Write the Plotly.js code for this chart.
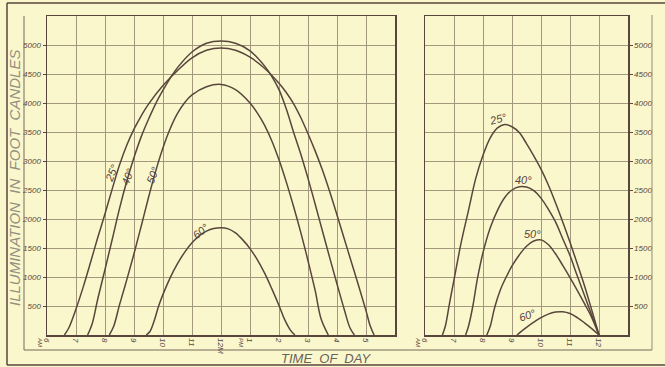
<!DOCTYPE html>
<html>
<head>
<meta charset="utf-8">
<script src="https://cdn.plot.ly/plotly-3.0.1.min.js"></script>
<style>html,body{margin:0;padding:0;background:#FAF7CD;}</style>
</head>
<body>
<div id="chart" style="width:665px;height:367px;"></div>
<script>
// ---- Data: left panel (illumination through the day) ----
const leftHours25 = [6.6, 6.75, 7.0, 7.25, 7.5, 7.75, 8.0, 8.25, 8.5, 8.75, 9.0, 9.25, 9.5, 10.0, 10.5, 11.0, 11.5, 12.0, 12.5, 13.0, 13.5, 14.0, 14.25, 14.5, 14.75, 15.0, 15.25, 15.5, 15.75, 16.0, 16.25, 16.5, 16.75, 17.0, 17.15, 17.28];
const leftVals25  = [0, 120, 450, 830, 1250, 1680, 2090, 2520, 2930, 3270, 3550, 3780, 3980, 4300, 4560, 4780, 4910, 4950, 4910, 4790, 4600, 4340, 4180, 3990, 3750, 3470, 3170, 2840, 2470, 2070, 1660, 1250, 840, 420, 150, 0];

const leftHours40 = [7.4, 7.55, 7.75, 8.0, 8.25, 8.5, 8.75, 9.0, 9.25, 9.5, 9.75, 10.0, 10.25, 10.5, 11.0, 11.5, 12.0, 12.5, 13.0, 13.5, 13.75, 14.0, 14.25, 14.5, 14.75, 15.0, 15.25, 15.5, 15.75, 16.0, 16.25, 16.45, 16.6];
const leftVals40  = [0, 180, 620, 1130, 1650, 2180, 2650, 3060, 3420, 3720, 3990, 4220, 4430, 4610, 4880, 5030, 5070, 5030, 4900, 4640, 4460, 4230, 3900, 3500, 3120, 2700, 2250, 1790, 1330, 880, 440, 120, 0];

const leftHours50 = [8.15, 8.3, 8.5, 8.75, 9.0, 9.25, 9.5, 9.75, 10.0, 10.25, 10.5, 10.75, 11.0, 11.5, 12.0, 12.5, 13.0, 13.25, 13.5, 13.75, 14.0, 14.25, 14.5, 14.75, 15.0, 15.25, 15.45, 15.7];
const leftVals50  = [0, 150, 520, 950, 1400, 1880, 2370, 2830, 3230, 3560, 3820, 4010, 4140, 4280, 4320, 4230, 4000, 3830, 3620, 3350, 3020, 2640, 2220, 1770, 1280, 760, 280, 0];

const leftHours60 = [9.42, 9.55, 9.7, 9.85, 10.0, 10.25, 10.5, 10.75, 11.0, 11.25, 11.5, 11.75, 12.0, 12.25, 12.5, 12.75, 13.0, 13.25, 13.5, 13.75, 14.0, 14.2, 14.4, 14.55];
const leftVals60  = [0, 60, 250, 500, 700, 990, 1230, 1430, 1590, 1710, 1790, 1835, 1850, 1830, 1760, 1640, 1490, 1300, 1070, 800, 510, 260, 80, 0];

// ---- Data: right panel (morning only) ----
const rightHours25 = [6.6, 6.7, 6.85, 7.0, 7.25, 7.5, 7.75, 8.0, 8.25, 8.5, 8.75, 9.0, 9.25, 9.5, 9.75, 10.0, 10.25, 10.5, 10.75, 11.0, 11.25, 11.5, 11.75, 12.0];
const rightVals25  = [0, 150, 560, 950, 1600, 2150, 2700, 3100, 3400, 3570, 3630, 3590, 3490, 3300, 3090, 2860, 2590, 2280, 1950, 1600, 1230, 850, 430, 0];

const rightHours40 = [7.4, 7.5, 7.65, 7.8, 8.0, 8.25, 8.5, 8.75, 9.0, 9.25, 9.5, 9.75, 10.0, 10.25, 10.5, 10.75, 11.0, 11.25, 11.5, 11.75, 12.0];
const rightVals40  = [0, 150, 500, 950, 1420, 1850, 2150, 2370, 2500, 2555, 2550, 2490, 2360, 2170, 1950, 1660, 1370, 1020, 680, 340, 0];

const rightHours50 = [8.13, 8.25, 8.4, 8.6, 8.8, 9.0, 9.25, 9.5, 9.75, 10.0, 10.25, 10.5, 10.75, 11.0, 11.25, 11.5, 11.75, 12.0];
const rightVals50  = [0, 150, 470, 780, 1000, 1190, 1380, 1530, 1620, 1640, 1560, 1400, 1200, 990, 770, 540, 300, 0];

const rightHours60 = [9.17, 9.5, 9.75, 10.0, 10.25, 10.5, 10.75, 11.0, 11.25, 11.5, 11.75, 12.0];
const rightVals60  = [0, 130, 220, 300, 360, 395, 400, 370, 300, 210, 110, 0];

// ---- Tick labels ----
const leftTickVals  = [6, 7, 8, 9, 10, 11, 12, 13, 14, 15, 16, 17];
const leftTickText  = ['6', '7', '8', '9', '10', '11', '12M', '1', '2', '3', '4', '5'];
const rightTickVals = [6, 7, 8, 9, 10, 11, 12];
const rightTickText = ['6', '7', '8', '9', '10', '11', '12'];
const yTickVals = [500, 1000, 1500, 2000, 2500, 3000, 3500, 4000, 4500, 5000];
const yTickText = ['500', '1000', '1500', '2000', '2500', '3000', '3500', '4000', '4500', '5000'];

const curveLabels = ['25°', '40°', '50°', '60°'];

// ---- Styling ----
const W = 665, H = 367;
const INK = 'rgb(88,70,60)';
const GRID = 'rgb(163,152,126)';
const BG = '#FAF7CD';
const FONT = 'Liberation Sans';

function curve(x, y, xa, ya) {
  return {x: x, y: y, xaxis: xa, yaxis: ya, mode: 'lines', type: 'scatter',
    line: {color: INK, width: 1.5, shape: 'spline', smoothing: 1},
    hoverinfo: 'skip', showlegend: false};
}

const data = [
  curve(leftHours25, leftVals25, 'x', 'y'),
  curve(leftHours40, leftVals40, 'x', 'y'),
  curve(leftHours50, leftVals50, 'x', 'y'),
  curve(leftHours60, leftVals60, 'x', 'y'),
  curve(rightHours25, rightVals25, 'x2', 'y2'),
  curve(rightHours40, rightVals40, 'x2', 'y2'),
  curve(rightHours50, rightVals50, 'x2', 'y2'),
  curve(rightHours60, rightVals60, 'x2', 'y2')
];

const px = v => v / W;
const py = v => 1 - v / H;
const yDom = [py(335), py(16)];

const tickFont = {family: FONT, size: 8, color: INK, style: 'italic'};

function xAxis(domain, range, vals, text, anchor) {
  return {domain: domain, range: range, anchor: anchor,
    tickmode: 'array', tickvals: vals, ticktext: text, tickangle: 90,
    tickfont: tickFont, ticks: '', ticklen: 0,
    showgrid: true, gridcolor: GRID, gridwidth: 1,
    showline: true, linecolor: INK, linewidth: 1.5, mirror: true,
    zeroline: false, fixedrange: true};
}
function yAxis(side, anchor) {
  return {domain: yDom, range: [0, 5500], anchor: anchor, side: side,
    tickmode: 'array', tickvals: yTickVals, ticktext: yTickText,
    tickfont: tickFont, ticks: 'outside', ticklen: 3, tickcolor: INK,
    showgrid: true, gridcolor: GRID, gridwidth: 1,
    showline: true, linecolor: INK, linewidth: 1.5, mirror: true,
    zeroline: false, fixedrange: true};
}

const labFont = {family: FONT, size: 11, color: INK, style: 'italic'};
const smallFont = {family: FONT, size: 6, color: INK, style: 'italic'};
function paperNote(x, y, text, angle, font) {
  return {x: px(x), y: py(y), xref: 'paper', yref: 'paper', xanchor: 'center', yanchor: 'middle',
    text: text, textangle: angle, showarrow: false, font: font};
}
function dataNote(x, y, xa, ya, text, angle) {
  return {x: x, y: y, xref: xa, yref: ya, xanchor: 'center', yanchor: 'middle',
    text: text, textangle: angle, showarrow: false, font: labFont};
}

const annotations = [
  // curve labels, left panel
  dataNote(8.22, 2800, 'x', 'y', curveLabels[0], -68),
  dataNote(8.77, 2730, 'x', 'y', curveLabels[1], -68),
  dataNote(9.64, 2760, 'x', 'y', curveLabels[2], -68),
  dataNote(11.3, 1800, 'x', 'y', curveLabels[3], -40),
  // curve labels, right panel
  dataNote(8.5, 3720, 'x2', 'y2', curveLabels[0], -15),
  dataNote(9.38, 2680, 'x2', 'y2', curveLabels[1], 0),
  dataNote(9.72, 1740, 'x2', 'y2', curveLabels[2], 0),
  dataNote(9.55, 340, 'x2', 'y2', curveLabels[3], -20),
  // AM / PM markers
  paperNote(40, 342, 'AM', 90, smallFont),
  paperNote(241, 342, 'PM', 90, smallFont),
  paperNote(418, 342, 'AM', 90, smallFont),
  // axis titles
  paperNote(14, 178, 'ILLUMINATION  IN  FOOT  CANDLES', -90,
    {family: FONT, size: 15, color: 'rgb(150,144,128)', style: 'italic'}),
  paperNote(326, 358, 'TIME  OF  DAY', 0,
    {family: FONT, size: 13, color: 'rgb(105,98,88)', style: 'italic'})
];

const lineStyle = {color: INK, width: 1.5};
const thin = {color: 'rgb(120,105,90)', width: 1};
function seg(x0, y0, x1, y1, line) {
  return {type: 'line', xref: 'paper', yref: 'paper', x0: px(x0), y0: py(y0), x1: px(x1), y1: py(y1), line: line};
}
const shapes = [
  seg(24, 16, 24, 350, thin),
  seg(24, 350, 652, 350, thin),
  seg(652, 15, 652, 350, {color: 'rgb(150,140,120)', width: 1}),
  seg(7, 3, 665, 3, lineStyle),
  seg(7, 3, 7, 365, lineStyle),
  seg(7, 365, 665, 365, lineStyle)
];

const layout = {
  width: W, height: H,
  margin: {l: 0, r: 0, t: 0, b: 0},
  paper_bgcolor: BG, plot_bgcolor: BG,
  showlegend: false,
  xaxis: xAxis([px(47), px(395)], [6, 18], leftTickVals, leftTickText, 'y'),
  yaxis: yAxis('left', 'x'),
  xaxis2: xAxis([px(425), px(628)], [6, 13], rightTickVals, rightTickText, 'y2'),
  yaxis2: yAxis('right', 'x2'),
  annotations: annotations,
  shapes: shapes,
  font: {family: FONT, color: INK}
};

Plotly.newPlot('chart', data, layout, {staticPlot: true, displayModeBar: false});
</script>
</body>
</html>
